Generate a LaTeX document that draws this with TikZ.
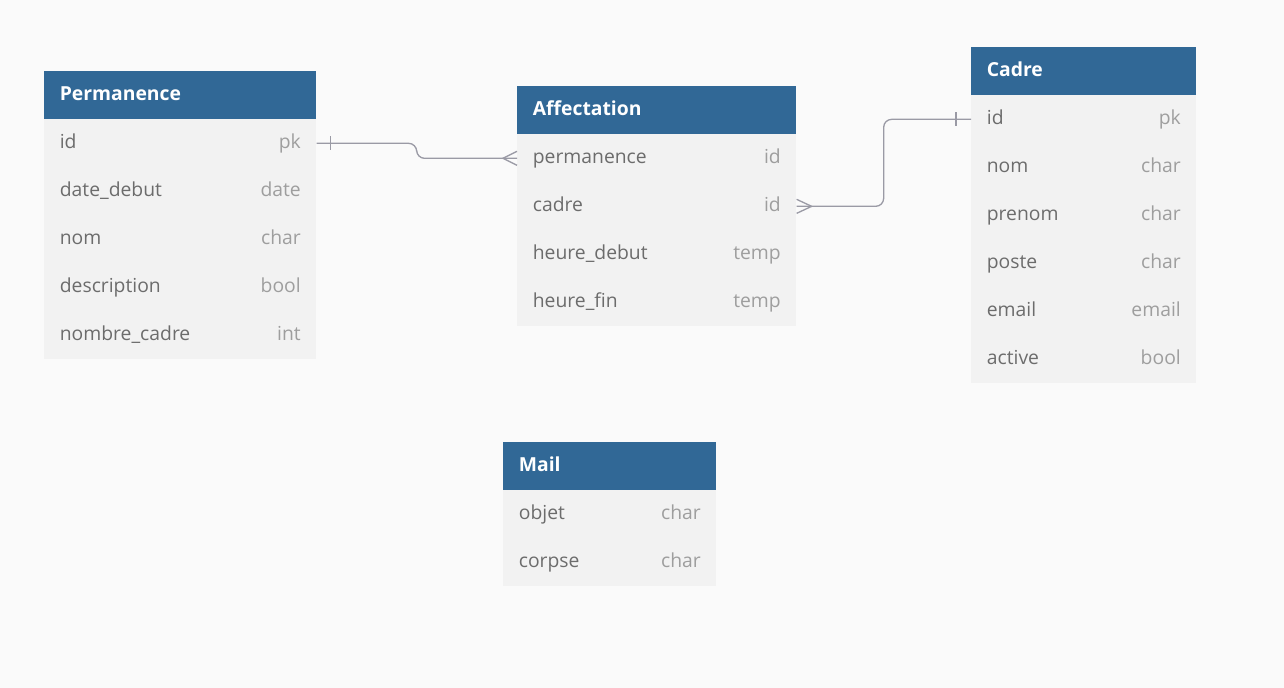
\documentclass[tikz,border=0pt]{standalone}
\usepackage{fontspec}
\setmainfont{Open Sans}
\definecolor{headblue}{RGB}{49,104,150}
\definecolor{rowgray}{RGB}{242,242,242}
\definecolor{bgcol}{RGB}{250,250,250}
\definecolor{fieldgray}{RGB}{108,108,108}
\definecolor{kindgray}{RGB}{158,158,158}
\definecolor{linkgray}{RGB}{154,154,165}
\newcommand\tabfont{\fontsize{11}{12}\selectfont}
\begin{document}
\begin{tikzpicture}[x=0.02cm, y=-0.02cm,
    head/.style={anchor=north west, fill=headblue, text=white, font=\bfseries\tabfont, minimum height=0.96cm, inner xsep=0.31cm, inner ysep=0pt, align=left, text height=1.6ex, text depth=0.45ex},
    field/.style={anchor=north west, fill=rowgray, text=fieldgray, font=\tabfont, minimum height=0.96cm, inner xsep=0.31cm, inner ysep=0pt, align=left, text height=1.6ex, text depth=0.45ex},
    kind/.style={anchor=east, text=kindgray, font=\tabfont, inner xsep=0.31cm, inner ysep=0pt, text height=1.6ex, text depth=0.45ex},
    link/.style={draw=linkgray, line width=0.75pt}]
    \fill[bgcol] (0,0) rectangle (1284,688);
    \useasboundingbox (0,0) rectangle (1284,688);
    % Permanence
    \node[head, text width=4.82cm] (ph) at (44,71) {Permanence};
    \node[field, text width=4.82cm] (p1) at (44,119) {id};
    \node[field, text width=4.82cm] (p2) at (44,167) {date\_debut};
    \node[field, text width=4.82cm] (p3) at (44,215) {nom};
    \node[field, text width=4.82cm] (p4) at (44,263) {description};
    \node[field, text width=4.82cm] (p5) at (44,311) {nombre\_cadre};
    \node[kind] (p1t) at (p1.east) {pk};
    \node[kind] (p2t) at (p2.east) {date};
    \node[kind] (p3t) at (p3.east) {char};
    \node[kind] (p4t) at (p4.east) {bool};
    \node[kind] (p5t) at (p5.east) {int};
    % Affectation
    \node[head, text width=4.96cm] (ah) at (517,86) {Affectation};
    \node[field, text width=4.96cm] (a1) at (517,134) {permanence};
    \node[field, text width=4.96cm] (a2) at (517,182) {cadre};
    \node[field, text width=4.96cm] (a3) at (517,230) {heure\_debut};
    \node[field, text width=4.96cm] (a4) at (517,278) {heure\_fin};
    \node[kind] (a1t) at (a1.east) {id};
    \node[kind] (a2t) at (a2.east) {id};
    \node[kind] (a3t) at (a3.east) {temp};
    \node[kind] (a4t) at (a4.east) {temp};
    % Cadre
    \node[head, text width=3.88cm] (ch) at (971,47) {Cadre};
    \node[field, text width=3.88cm] (c1) at (971,95) {id};
    \node[field, text width=3.88cm] (c2) at (971,143) {nom};
    \node[field, text width=3.88cm] (c3) at (971,191) {prenom};
    \node[field, text width=3.88cm] (c4) at (971,239) {poste};
    \node[field, text width=3.88cm] (c5) at (971,287) {email};
    \node[field, text width=3.88cm] (c6) at (971,335) {active};
    \node[kind] (c1t) at (c1.east) {pk};
    \node[kind] (c2t) at (c2.east) {char};
    \node[kind] (c3t) at (c3.east) {char};
    \node[kind] (c4t) at (c4.east) {char};
    \node[kind] (c5t) at (c5.east) {email};
    \node[kind] (c6t) at (c6.east) {bool};
    % Mail
    \node[head, text width=3.64cm] (mh) at (503,442) {Mail};
    \node[field, text width=3.64cm] (m1) at (503,490) {objet};
    \node[field, text width=3.64cm] (m2) at (503,538) {corpse};
    \node[kind] (m1t) at (m1.east) {char};
    \node[kind] (m2t) at (m2.east) {char};
    % links
    \draw[link, rounded corners=0.16cm] (p1.east) -- ++(100,0) |- (a1.west);
    \draw[link] ([shift={(14,-7)}]p1.east) -- ++(0,14);
    \draw[link] ([shift={(0,-7)}]a1.west) -- ([xshift=-0.28cm]a1.west) -- ([shift={(0,7)}]a1.west);
    \draw[link, rounded corners=0.16cm] (a2.east) -- ++(87,0) |- (c1.west);
    \draw[link] ([shift={(-15,-7)}]c1.west) -- ++(0,14);
    \draw[link] ([shift={(0,-7)}]a2.east) -- ([xshift=0.3cm]a2.east) -- ([shift={(0,7)}]a2.east);
\end{tikzpicture}
\end{document}
